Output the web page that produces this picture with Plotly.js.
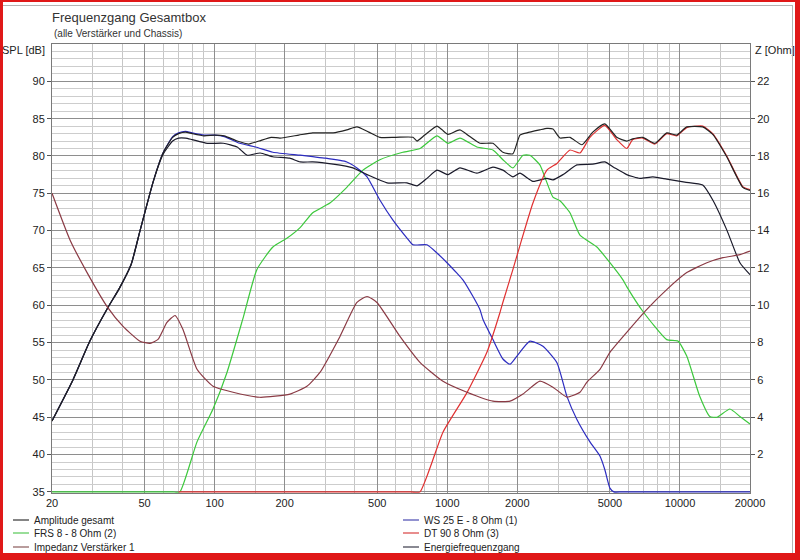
<!DOCTYPE html>
<html><head><meta charset="utf-8">
<script src="https://cdn.plot.ly/plotly-3.0.1.min.js"></script>
<style>
html,body{margin:0;padding:0;background:#fff;}
#wrap{position:relative;width:800px;height:560px;overflow:hidden;}
#chart{width:800px;height:560px;}
#frame{position:absolute;left:0;top:0;width:800px;height:560px;box-sizing:border-box;border-style:solid;border-color:#e01818;border-width:2px 5px 7px 3px;pointer-events:none;}
#inner{position:absolute;left:3px;top:5px;width:790px;height:548px;box-sizing:border-box;border-top:1px solid #b4b4b4;border-right:1px solid #b4b4b4;pointer-events:none;}
</style>
</head><body>
<div id="wrap"><div id="chart"></div><div id="inner"></div><div id="frame"></div></div>
<script>
// ---- Data ----
const ampFreq = [20,24.6,29.1,34.5,39,43.8,47.8,54.5,60,66,70,75,80,90,100,110,125,140,155,175,191,230,264,323,370,409,460,513,600,712,741,800,903,950,1007,1133,1250,1382,1571,1734,1915,2052,2199,2500,2680,2845,3049,3366,3790,4220,4752,5348,5905,6268,6920,7797,8773,9686,10694,12525,13834,15890,18620,20000];
const ampSpl  = [44.5,50,55.2,59.5,62.3,65.5,70,76.6,80.4,82.5,83.0,83.2,83.0,82.7,82.8,82.7,82.0,81.6,82.0,82.5,82.4,82.8,83.1,83.1,83.5,83.9,83.2,82.5,82.5,82.5,82.0,82.8,84.0,83.5,82.9,83.5,82.6,81.7,81.7,80.5,80.3,82.8,83.1,83.5,83.7,83.6,82.4,82.5,81.5,83.2,84.3,82.5,82.0,82.3,82.5,81.7,83.1,82.8,83.9,83.9,82.9,79.9,75.8,75.4];

const wsFreq = [20,24.6,29.1,34.5,39,43.8,47.8,54.5,60,66,70,75,80,90,100,110,128,150,178,233,264,300,370,409,452,513,584,671,712,818,903,997,1100,1167,1288,1382,1424,1571,1734,1860,1992,2265,2577,2960,3267,3606,4103,4530,4752,5000,5200,5600,6500,8000,10000,12500,16000,20000];
const wsSpl  = [44.5,50,55.2,59.5,62.3,65.5,70,76.6,80.4,82.6,83.1,83.3,83.1,82.8,82.8,82.6,81.7,81.2,80.5,80.1,79.9,79.7,79.2,78.4,77.2,74.1,71.4,69.0,68.1,68.1,67.0,65.7,64.3,63.4,61.2,59.4,58.1,55.4,52.8,52.1,53.2,55.2,54.5,52.3,47.8,44.7,41.7,39.8,38.0,35.5,35,35,35,35,35,35,35,35];

const frsFreq = [20,25,30,40,50,60,66,70.9,84,98.4,113,132,152,178,205,233,264,313,370,434,513,644,763,903,1007,1133,1340,1571,1734,1915,2115,2265,2500,2845,3049,3366,3716,4396,5000,5687,5905,6920,8773,9800,10694,12160,13440,14410,16390,18100,20000];
const frsSpl  = [35,35,35,35,35,35,35,35,41.7,46.1,51.0,58.1,64.8,67.8,69.0,70.4,72.4,73.7,75.8,78.1,79.5,80.5,81.0,82.7,81.7,82.4,81.2,80.8,79.5,78.4,80.1,80.1,78.8,74.5,74.0,72.4,69.4,67.8,65.7,63.4,62.5,59.2,55.4,55.2,53.2,47.8,45.1,45.0,46.1,45.1,44.1];

const dtFreq = [70,80,100,130,170,220,300,400,500,600,700,763,958,1215,1480,1683,1734,1915,2052,2334,2680,2960,3366,3716,4103,4752,5348,5905,6268,6920,7797,8773,9686,10694,12525,13834,15890,18620,20000];
const dtSpl  = [35,35,35,35,35,35,35,35,35,35,35,35,43.0,48.3,53.7,59.0,60.4,64.8,68.0,73.7,78.1,79.0,80.8,80.4,82.5,84.1,82.2,81.0,82.2,82.4,81.6,83.0,82.7,83.8,84.0,83.0,80.0,75.9,75.5];

const impFreq = [20,23.9,28.3,34.5,40.4,47.8,52.8,57.1,62.4,67.6,73.1,84,98.4,120,156.6,210.8,249.3,283.6,345.8,409,452,498.5,626,763,958,1215,1571,1860,2115,2500,2845,3267,3716,3984,4530,5000,5905,7191,8773,10694,13050,15300,18100,20000];
const impOhm  = [16.0,13.5,11.75,9.93,8.87,8.07,7.96,8.17,9.08,9.45,8.7,6.57,5.66,5.34,5.07,5.24,5.66,6.4,8.33,10.15,10.47,10.15,8.33,6.94,5.93,5.34,4.86,4.86,5.24,5.93,5.61,5.08,5.34,5.88,6.57,7.48,8.55,9.77,10.84,11.75,12.28,12.55,12.71,12.9];

const enFreq = [20,24.6,29.1,34.5,39,43.8,47.8,54.5,60,66,70,75,80,93,109,125,138,157,178,210,233,264,323,393,452,551,671,741,818,903,1007,1133,1340,1571,1734,1915,2052,2334,2680,2845,3142,3606,4220,4752,5185,5905,6727,7647,8773,10490,12525,13834,15890,18100,20000];
const enSpl  = [44.5,50,55.2,59.5,62.3,65.5,70,76.6,80.2,82.0,82.4,82.4,82.2,81.7,81.7,81.2,80.1,80.4,79.9,79.7,79.2,79.2,78.9,78.4,77.5,76.4,76.4,76.0,77.0,78.1,77.5,78.4,77.7,78.5,78.1,77.2,77.7,76.6,77.0,76.8,77.5,78.8,78.9,79.2,78.5,77.5,77.0,77.2,76.9,76.5,76.1,74.1,70.1,65.7,64.1];

const seriesNames = ['Amplitude gesamt','WS 25 E - 8 Ohm (1)','FRS 8 - 8 Ohm (2)','DT 90 8 Ohm (3)','Impedanz Verstärker 1','Energiefrequenzgang'];

const xTickVals = [20,50,100,200,500,1000,2000,5000,10000,20000];
const xTickText = ['20','50','100','200','500','1000','2000','5000','10000','20000'];
const xMinorVals = [30,40,60,70,80,90,150,300,400,600,700,800,900,1500,3000,4000,6000,7000,8000,9000,15000];
const yTickVals = [35,40,45,50,55,60,65,70,75,80,85,90];
const zTickVals = [2,4,6,8,10,12,14,16,18,20,22];

// ---- Styles ----
const FONT = '"Liberation Sans", Arial, sans-serif';
const COLORS = {amp:'#222222', ws:'#2c2cc0', frs:'#3cc83c', dt:'#e03030', imp:'#8a3a44', en:'#1a1a2a'};
const LEGCOLORS = ['#333333','#4848b0','#55c855','#d84040','#8a5a5a','#3a3a48'];
const lineShape = {shape:'spline', smoothing:0.5};
const W = 800, H = 560, ML = 52, MR = 50, MT = 44, MB = 67;
const PW = W-ML-MR, PH = H-MT-MB;
const px2x = px => (px-ML)/PW;
const py2y = py => (H-MB-py)/PH;

const traces = [
  {x: impFreq, y: impOhm, yaxis:'y2', name:seriesNames[4], line:Object.assign({color:COLORS.imp, width:1.2}, lineShape)},
  {x: frsFreq, y: frsSpl, name:seriesNames[2], line:Object.assign({color:COLORS.frs, width:1.2}, lineShape)},
  {x: wsFreq,  y: wsSpl,  name:seriesNames[1], line:Object.assign({color:COLORS.ws,  width:1.2}, lineShape)},
  {x: enFreq,  y: enSpl,  name:seriesNames[5], line:Object.assign({color:COLORS.en,  width:1.2}, lineShape)},
  {x: dtFreq,  y: dtSpl,  name:seriesNames[3], line:Object.assign({color:COLORS.dt,  width:1.2}, lineShape)},
  {x: ampFreq, y: ampSpl, name:seriesNames[0], line:Object.assign({color:COLORS.amp, width:1.2}, lineShape)}
].map(t => Object.assign({type:'scatter', mode:'lines', hoverinfo:'skip', showlegend:false}, t));

// Legend (two columns, three rows) built as text annotations + short sample lines
const legCols = [13, 403];
const legRows = [520, 533, 547];
const legendAnn = [], legendShapes = [];
seriesNames.forEach((name, i) => {
  const col = legCols[i % 2], row = legRows[Math.floor(i / 2)];
  legendShapes.push({type:'line', xref:'paper', yref:'paper', x0:px2x(col), x1:px2x(col+16), y0:py2y(row), y1:py2y(row),
                     line:{color:LEGCOLORS[i], width:1.2}});
  legendAnn.push({text:name, xref:'paper', yref:'paper', x:px2x(col+19), y:py2y(row), xanchor:'left', yanchor:'middle',
                  showarrow:false, font:{family:FONT, size:10, color:'#222'}});
});

const Y0 = 34.85;
const layout = {
  width:W, height:H,
  margin:{l:ML, r:MR, t:MT, b:MB, pad:0},
  paper_bgcolor:'#ffffff', plot_bgcolor:'#ffffff',
  font:{family:FONT, size:11, color:'#222'},
  title:{text:'Frequenzgang Gesamtbox', font:{family:FONT, size:13, color:'#333'},
         xref:'paper', x:0, xanchor:'left', yref:'container', y:1-17/H, yanchor:'middle'},
  showlegend:false,
  xaxis:{type:'log', range:[Math.log10(20), Math.log10(20000)],
         tickmode:'array', tickvals:xTickVals, ticktext:xTickText,
         showgrid:true, gridcolor:'#8e8e8e', gridwidth:1,
         minor:{tickmode:'array', tickvals:xMinorVals, showgrid:true, gridcolor:'#c6c6c6', gridwidth:1, ticks:''},
         showline:true, linecolor:'#7a7a7a', mirror:true, ticks:'', zeroline:false,
         tickfont:{size:11, color:'#222'}},
  yaxis:{range:[Y0,95], tickmode:'array', tickvals:yTickVals,
         showgrid:true, gridcolor:'#8e8e8e', gridwidth:1,
         minor:{tickmode:'linear', tick0:35, dtick:1, showgrid:true, gridcolor:'#cdcdcd', gridwidth:1, ticks:''},
         ticks:'outside', ticklen:4, tickcolor:'#555', showline:true, linecolor:'#7a7a7a', mirror:true,
         zeroline:false, tickfont:{size:11, color:'#222'}},
  yaxis2:{range:[(Y0-35)*0.4, 24], overlaying:'y', side:'right', tickmode:'array', tickvals:zTickVals,
          showgrid:false, ticks:'outside', ticklen:4, tickcolor:'#555', zeroline:false,
          showline:false, tickfont:{size:11, color:'#222'}},
  shapes: legendShapes,
  annotations:[
    {text:'(alle Verstärker und Chassis)', xref:'paper', x:0, xanchor:'left', yref:'paper', y:1+11/PH, yanchor:'middle',
     showarrow:false, font:{family:FONT, size:10, color:'#333'}},
    {text:'SPL [dB]', xref:'paper', x:-5/PW, xanchor:'right', yref:'paper', y:1-6/PH, yanchor:'middle',
     showarrow:false, font:{family:FONT, size:11, color:'#222'}},
    {text:'Z [Ohm]', xref:'paper', x:1+3/PW, xanchor:'left', yref:'paper', y:1-6/PH, yanchor:'middle',
     showarrow:false, font:{family:FONT, size:11, color:'#222'}}
  ].concat(legendAnn)
};

Plotly.newPlot('chart', traces, layout, {displayModeBar:false, staticPlot:true});
</script>
</body></html>
